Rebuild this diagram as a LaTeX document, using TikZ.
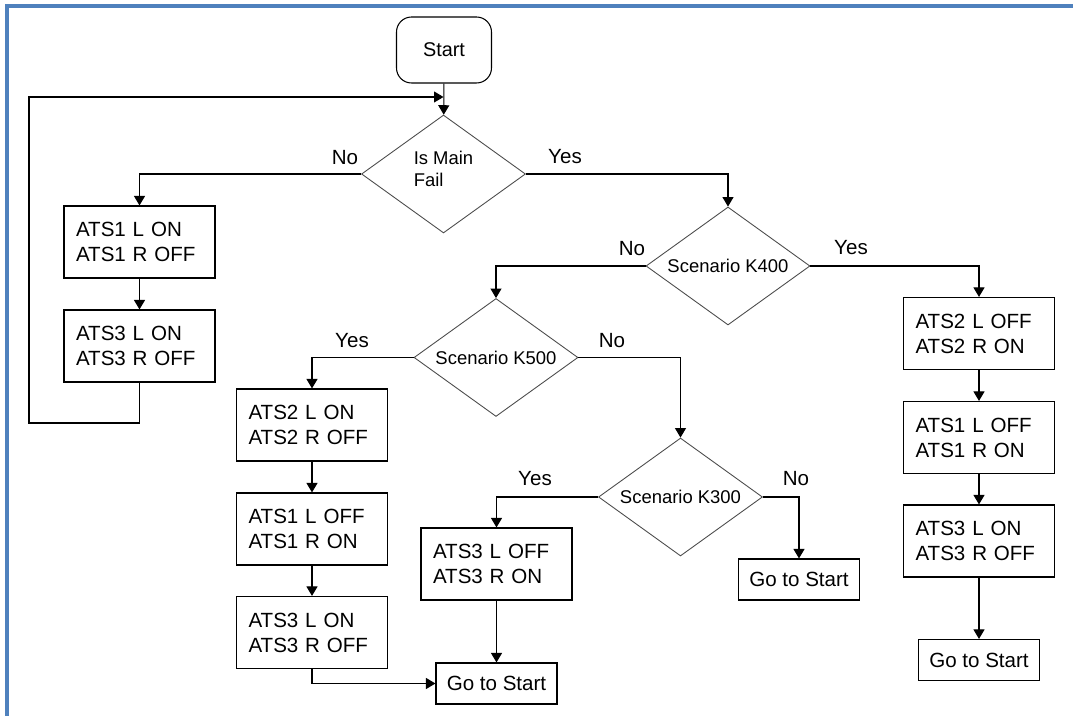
\documentclass[tikz,border=0pt]{standalone}
\usepackage{fontspec}
\setmainfont{Liberation Sans}
\usetikzlibrary{shapes.geometric,arrows.meta}
\definecolor{framecol}{RGB}{79,129,189}
\definecolor{dline}{RGB}{75,75,75}
\begin{document}
\begin{tikzpicture}[x=0.02cm,y=-0.02cm,
  boxfont/.style={font=\fontsize{11.7pt}{14.2pt}\selectfont},
  dfont/.style={font=\fontsize{10.5pt}{12.6pt}\selectfont},
  actbox/.style={draw, line width=0.65pt, boxfont, text width=2.54cm, inner xsep=0.24cm, inner ysep=0pt,
    minimum height=1.44cm, align=left},
  gobox/.style={draw, line width=0.65pt, boxfont, minimum width=2.42cm, minimum height=0.82cm, inner sep=0pt},
  dia/.style={draw=dline, line width=0.5pt, diamond, aspect=1.39, minimum width=3.28cm, minimum height=2.36cm, inner sep=0pt, dfont},
  startbox/.style={draw, line width=0.6pt, rounded corners=0.3cm, minimum width=1.9cm, minimum height=1.32cm,
    font=\fontsize{11.3pt}{13pt}\selectfont},
  lbl/.style={boxfont, inner sep=0pt},
  conn/.style={line width=0.6pt, -{Triangle[length=0.19cm,width=0.22cm]}},
  plain/.style={line width=0.6pt}
]
\useasboundingbox (0,0) rectangle (1073,716);
% frame
\draw[framecol, line width=1.8pt] (7,716) -- (7,6) -- (1073,6);

% nodes
\node[startbox] (start) at (444,50) {Start};
\node[dia, label={[dfont, align=left, inner sep=0pt, yshift=0.11cm]center:Is Main\\Fail}] (d1) at (443.5,174) {};
\node[dia] (d2) at (728,266) {Scenario K400};
\node[dia] (d3) at (496,357.5) {Scenario K500};
\node[dia] (d4) at (680.5,497) {Scenario K300};

\node[actbox] (a1) at (139.5,242) {ATS1 L ON\\ATS1 R OFF};
\node[actbox] (a2) at (139.5,346) {ATS3 L ON\\ATS3 R OFF};

\node[actbox] (b1) at (312,425) {ATS2 L ON\\ATS2 R OFF};
\node[actbox] (b2) at (312,529) {ATS1 L OFF\\ATS1 R ON};
\node[actbox] (b3) at (312,632.5) {ATS3 L ON\\ATS3 R OFF};

\node[actbox] (c1) at (496.5,564) {ATS3 L OFF\\ATS3 R ON};
\node[gobox] (g1) at (496.5,683.5) {Go to Start};
\node[gobox] (g2) at (799,579.5) {Go to Start};

\node[actbox] (r1) at (979,333.5) {ATS2 L OFF\\ATS2 R ON};
\node[actbox] (r2) at (979,437.5) {ATS1 L OFF\\ATS1 R ON};
\node[actbox] (r3) at (979,541) {ATS3 L ON\\ATS3 R OFF};
\node[gobox] (g3) at (979,660) {Go to Start};

% labels
\node[lbl] (l1) at (345,158) {No};
\node[lbl] (l2) at (565,157) {Yes};
\node[lbl] (l3) at (632,249) {No};
\node[lbl] (l4) at (851,248) {Yes};
\node[lbl] (l5) at (352,341) {Yes};
\node[lbl] (l6) at (612,341) {No};
\node[lbl] (l7) at (535,479) {Yes};
\node[lbl] (l8) at (796,479) {No};

% loop coordinates
\coordinate (lb) at (29,423);
\coordinate (lt) at (29,97);
\coordinate (join) at (443.5,97);

% connectors
\draw[conn] (start) -- (d1);
\draw[conn] (a2.south) |- (lb) -- (lt) -- (join);
\draw[conn] (d1.west) -| (a1.north);
\draw[conn] (a1) -- (a2);
\draw[conn] (d1.east) -| (d2.north);
\draw[conn] (d2.west) -| (d3.north);
\draw[conn] (d2.east) -| (r1.north);
\draw[conn] (r1) -- (r2);
\draw[conn] (r2) -- (r3);
\draw[conn] (r3) -- (g3);
\draw[conn] (d3.west) -| (b1.north);
\draw[conn] (b1) -- (b2);
\draw[conn] (b2) -- (b3);
\draw[conn] (b3.south) |- (g1.west);
\draw[conn] (d3.east) -| (d4.north);
\draw[conn] (d4.west) -| (c1.north);
\draw[conn] (c1) -- (g1);
\draw[conn] (d4.east) -| (g2.north);
\end{tikzpicture}
\end{document}
